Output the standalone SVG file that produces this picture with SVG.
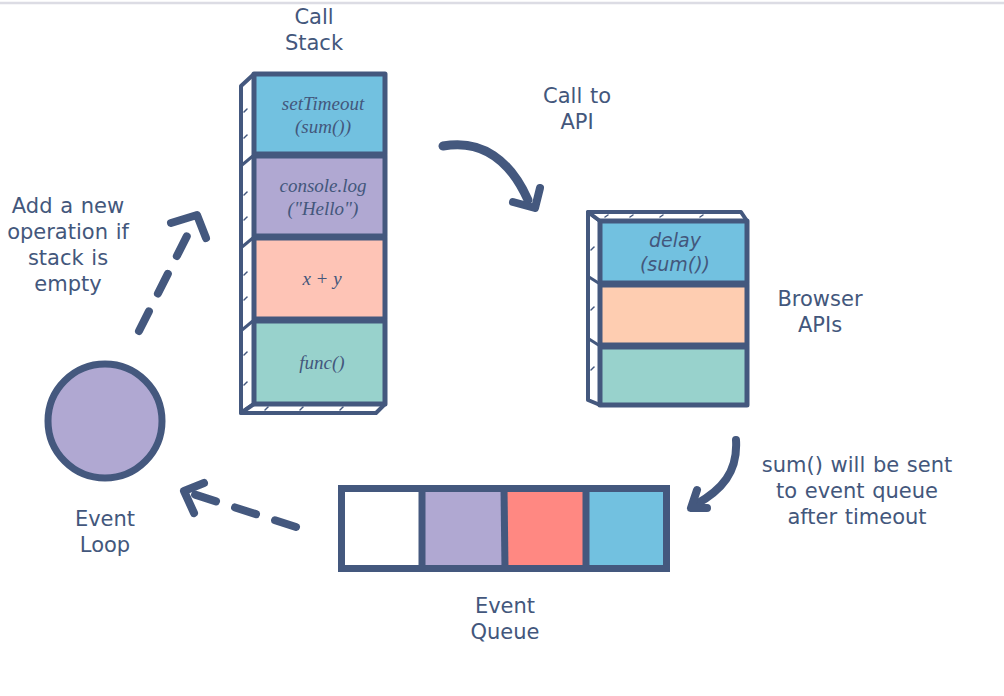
<svg xmlns="http://www.w3.org/2000/svg" width="1004" height="696" viewBox="0 0 1004 696">
<style>
.lbl{font-family:"DejaVu Sans",Verdana,sans-serif;font-size:21px;word-spacing:1px;fill:#43577c;text-anchor:middle}
.ser{font-family:"Liberation Serif","DejaVu Serif",serif;font-style:italic;font-size:19px;fill:#43577c;text-anchor:middle}
.obl{font-family:"DejaVu Sans",sans-serif;font-style:italic;font-size:19px;fill:#43577c;text-anchor:middle}
.box{stroke:#44587e;stroke-width:5;stroke-linejoin:round}
.side{fill:#fff;stroke:#44587e;stroke-width:4;stroke-linejoin:round}
.tick{stroke:#44587e;stroke-width:1.5;stroke-linecap:round}
.conn{fill:none;stroke:#44587e;stroke-linecap:round;stroke-linejoin:round}
</style>
<rect width="1004" height="696" fill="#fff"/>
<line x1="0" y1="3" x2="1004" y2="3" stroke="#dcdce4" stroke-width="2.5"/>

<g id="call-stack">
  <polygon class="side" points="254,74 241,86 241,413 254,404"/>
  <polygon class="side" points="241,413 254,404 385,404 376,413"/>
  <g class="tick">
    <line x1="244" y1="112" x2="247" y2="109"/><line x1="244" y1="138" x2="247" y2="135"/>
    <line x1="244" y1="195" x2="247" y2="192"/><line x1="244" y1="220" x2="247" y2="217"/>
    <line x1="244" y1="275" x2="247" y2="272"/><line x1="244" y1="300" x2="247" y2="297"/>
    <line x1="244" y1="355" x2="247" y2="352"/><line x1="244" y1="385" x2="247" y2="382"/>
    <line x1="265" y1="410" x2="268" y2="407"/><line x1="300" y1="410" x2="303" y2="407"/>
    <line x1="340" y1="410" x2="343" y2="407"/>
  </g>
  <g stroke="#44587e" stroke-width="3">
    <line x1="254" y1="155" x2="242" y2="165"/>
    <line x1="254" y1="237" x2="242" y2="247"/>
    <line x1="254" y1="320" x2="242" y2="330"/>
  </g>
  <rect class="box" x="254" y="74" width="131" height="80" fill="#72c1e0"/>
  <rect class="box" x="254" y="156" width="131" height="80" fill="#b0a8d2"/>
  <rect class="box" x="254" y="238" width="131" height="81" fill="#fec4b6"/>
  <rect class="box" x="254" y="321" width="131" height="83" fill="#98d2cc"/>
  <text class="ser" x="323" y="110">setTimeout</text>
  <text class="ser" x="323" y="133">(sum())</text>
  <text class="ser" x="323" y="192">console.log</text>
  <text class="ser" x="323" y="215">("Hello")</text>
  <text class="ser" x="322" y="285">x + y</text>
  <text class="ser" x="322" y="369">func()</text>
</g>

<g id="browser-apis">
  <polygon class="side" points="600,221 588,212 588,400 600,405"/>
  <polygon class="side" points="588,212 741,212 747,221 600,221"/>
  <g class="tick">
    <line x1="605" y1="217" x2="608" y2="215"/><line x1="630" y1="217" x2="633" y2="215"/>
    <line x1="660" y1="217" x2="663" y2="215"/><line x1="700" y1="217" x2="703" y2="215"/>
    <line x1="591" y1="250" x2="594" y2="247"/><line x1="591" y1="310" x2="594" y2="307"/>
    <line x1="591" y1="370" x2="594" y2="367"/>
  </g>
  <g stroke="#44587e" stroke-width="3">
    <line x1="600" y1="284" x2="589" y2="277"/>
    <line x1="600" y1="346" x2="589" y2="339"/>
  </g>
  <rect class="box" x="600" y="221" width="147" height="62" fill="#72c1e0"/>
  <rect class="box" x="600" y="285" width="147" height="60" fill="#fecdb1"/>
  <rect class="box" x="600" y="347" width="147" height="58" fill="#98d2cc"/>
  <text class="obl" x="675" y="247">delay</text>
  <text class="obl" x="675" y="271">(sum())</text>
</g>

<g id="event-queue">
  <rect x="341.5" y="488.5" width="80.5" height="80" fill="#ffffff"/>
  <rect x="422" y="488.5" width="82" height="80" fill="#b0a8d2"/>
  <rect x="504" y="488.5" width="82" height="80" fill="#ff8882"/>
  <rect x="586" y="488.5" width="80.5" height="80" fill="#72c1e0"/>
  <rect x="341.5" y="488.5" width="325" height="80" fill="none" stroke="#44587e" stroke-width="7"/>
  <g stroke="#44587e" stroke-width="7">
    <line x1="422" y1="488" x2="422" y2="569"/>
    <line x1="504" y1="488" x2="505" y2="569"/>
    <line x1="586" y1="488" x2="586" y2="569"/>
  </g>
</g>

<g id="event-loop">
  <circle cx="105" cy="421" r="57" fill="#b0a8d2" stroke="#44587e" stroke-width="7"/>
</g>

<g id="connectors">
  <path class="conn" stroke-width="9" d="M443,146 C482,139 510,160 528,200"/>
  <path class="conn" stroke-width="8" d="M513,202 L535,208 L540,188"/>
  <path class="conn" stroke-width="8" d="M736,440 C738,472 722,490 695,505"/>
  <path class="conn" stroke-width="8" d="M697,490 L691,508 L707,508"/>
  <path class="conn" stroke-width="8" stroke-dasharray="22 20" d="M139,331 L193,224"/>
  <path class="conn" stroke-width="8" d="M171,223 L197,215 L206,238"/>
  <path class="conn" stroke-width="8" stroke-dasharray="22 20" d="M296,527 L190,493"/>
  <path class="conn" stroke-width="8" d="M204,483 L184,491 L194,513"/>
</g>

<g id="labels">
  <text class="lbl" x="314" y="24">Call</text>
  <text class="lbl" x="314" y="50">Stack</text>
  <text class="lbl" x="577" y="103">Call to</text>
  <text class="lbl" x="577" y="129">API</text>
  <text class="lbl" x="68" y="213">Add a new</text>
  <text class="lbl" x="68" y="239">operation if</text>
  <text class="lbl" x="68" y="265">stack is</text>
  <text class="lbl" x="68" y="291">empty</text>
  <text class="lbl" x="820" y="306">Browser</text>
  <text class="lbl" x="820" y="332">APIs</text>
  <text class="lbl" x="857" y="472">sum() will be sent</text>
  <text class="lbl" x="857" y="498">to event queue</text>
  <text class="lbl" x="857" y="524">after timeout</text>
  <text class="lbl" x="105" y="526">Event</text>
  <text class="lbl" x="105" y="552">Loop</text>
  <text class="lbl" x="505" y="613">Event</text>
  <text class="lbl" x="505" y="639">Queue</text>
</g>
</svg>
